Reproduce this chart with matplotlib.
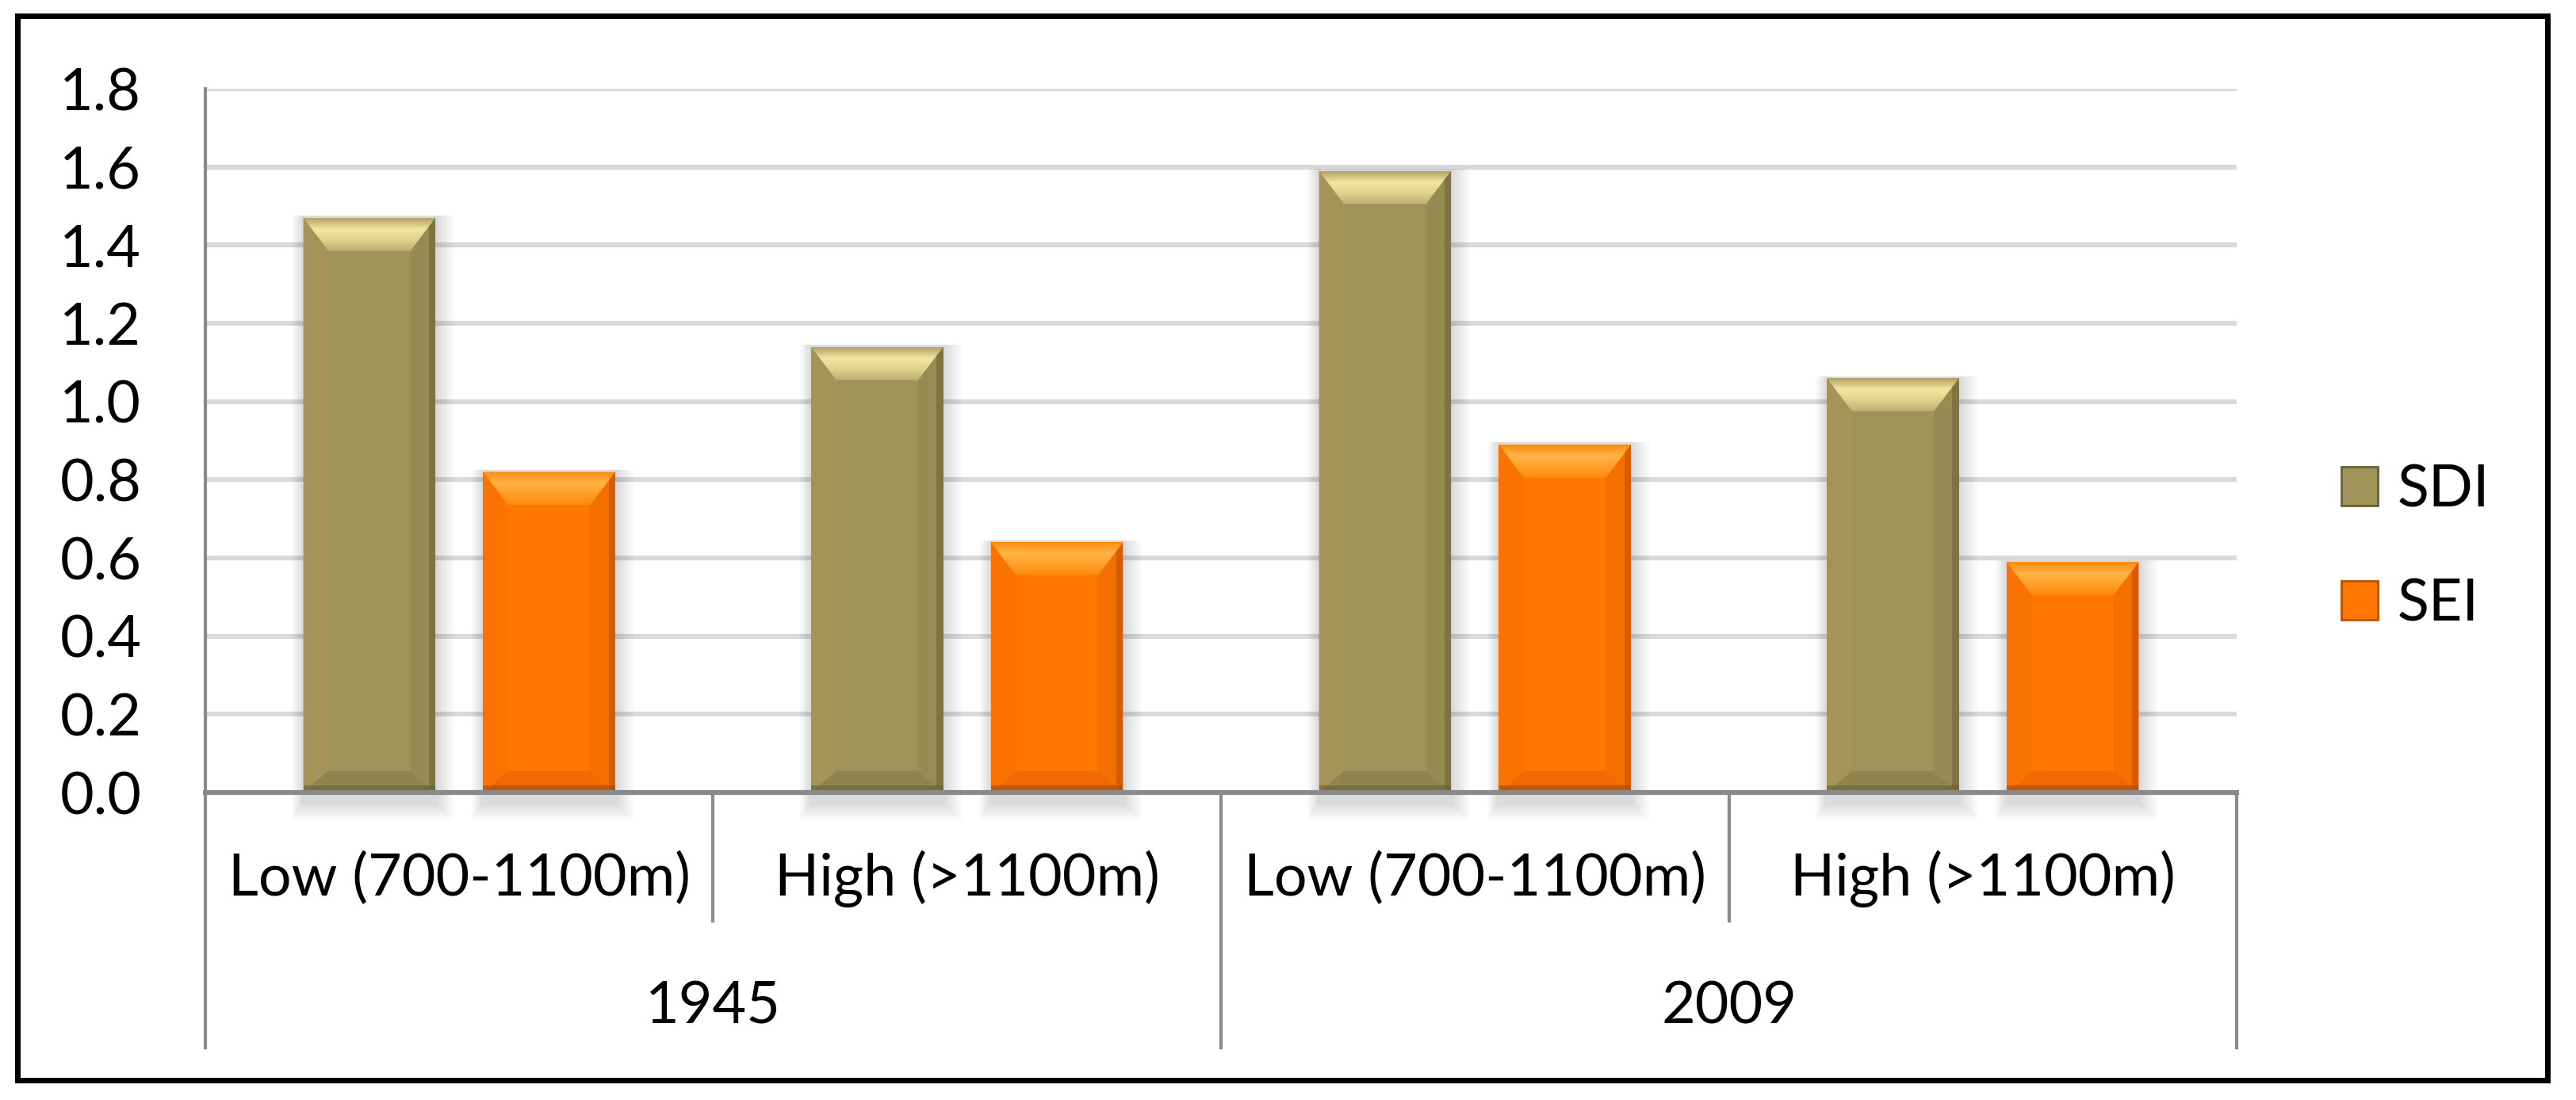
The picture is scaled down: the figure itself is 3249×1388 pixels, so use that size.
import numpy as np
import matplotlib
matplotlib.use("Agg")
import matplotlib.pyplot as plt
from matplotlib.patches import Polygon, Rectangle, Patch
from matplotlib.colors import LinearSegmentedColormap

# chart values
sub_labels = ["Low (700-1100m)", "High (>1100m)", "Low (700-1100m)", "High (>1100m)"]
years = ["1945", "2009"]
series_names = ["SDI", "SEI"]
sdi_values = [1.47, 1.14, 1.59, 1.06]
sei_values = [0.82, 0.64, 0.89, 0.59]
y_ticks = [0.0, 0.2, 0.4, 0.6, 0.8, 1.0, 1.2, 1.4, 1.6, 1.8]

# bevel look for each series
palettes = {
    "SDI": {
        "face": "#9F9359", "left": "#A59358", "right": "#968C53", "edge": "#6A6234",
        "top": ["#B3A363", "#F2E6A0", "#E0D28C", "#BDAF6E"],
        "bottom": "#8F844E", "bottom_edge": "#675E35",
    },
    "SEI": {
        "face": "#FF7700", "left": "#FA7200", "right": "#F56E00", "edge": "#B85000",
        "top": ["#FF8A10", "#FFB445", "#FFA02A", "#FF8A0C"],
        "bottom": "#F06A00", "bottom_edge": "#A84A00",
    },
}

plt.rcParams["font.family"] = ["Lato", "DejaVu Sans"]
FS = 26.5


def draw_bevel(ax, rect, pal):
    x0 = rect.get_x()
    w = rect.get_width()
    x1 = x0 + w
    top = rect.get_height()
    sw = w * 0.19
    th = 0.085
    bh = 0.055
    sx = w * 0.05

    # soft shadow
    for k in range(6):
        d = 0.006 * (k + 1)
        ax.add_patch(Rectangle((x0 - d * 0.6, -0.025 - d * 1.2), w + d * 1.6, top + 0.03 + d * 1.2,
                               facecolor="#000000", alpha=0.025, lw=0, zorder=2, clip_on=False))

    # sides
    ax.add_patch(Polygon([(x0, 0), (x0 + sw, bh), (x0 + sw, top - th), (x0, top)],
                         facecolor=pal["left"], lw=0, zorder=3.1))
    ax.add_patch(Polygon([(x1, 0), (x1 - sw, bh), (x1 - sw, top - th), (x1, top)],
                         facecolor=pal["right"], lw=0, zorder=3.1))
    ax.add_patch(Rectangle((x1 - sx, 0), sx, top, facecolor=pal["edge"], alpha=0.55, lw=0, zorder=3.2))
    # bottom
    ax.add_patch(Polygon([(x0, 0), (x1, 0), (x1 - sw, bh), (x0 + sw, bh)],
                         facecolor=pal["bottom"], lw=0, zorder=3.3))
    ax.add_patch(Rectangle((x0, 0), w, 0.018, facecolor=pal["bottom_edge"], alpha=0.6, lw=0, zorder=3.4))
    # top with gradient
    top_poly = Polygon([(x0, top), (x1, top), (x1 - sw, top - th), (x0 + sw, top - th)],
                       facecolor="none", lw=0, zorder=3.5)
    ax.add_patch(top_poly)
    cmap = LinearSegmentedColormap.from_list("t", pal["top"])
    grad = np.linspace(0, 1, 64).reshape(-1, 1)
    im = ax.imshow(grad, cmap=cmap, extent=[x0, x1, top - th, top], origin="upper",
                   aspect="auto", zorder=3.5, interpolation="bicubic")
    im.set_clip_path(top_poly)


fig = plt.figure(figsize=(16.245, 6.94), dpi=200)
ax = fig.add_axes([0.0797, 0.2795, 0.7886, 0.6398])

x = np.arange(len(sub_labels))
bar_w = 0.26
off = 0.177
bars_sdi = ax.bar(x - off, sdi_values, bar_w, color=palettes["SDI"]["face"], zorder=3, label="SDI")
bars_sei = ax.bar(x + off, sei_values, bar_w, color=palettes["SEI"]["face"], zorder=3, label="SEI")
for r in bars_sdi:
    draw_bevel(ax, r, palettes["SDI"])
for r in bars_sei:
    draw_bevel(ax, r, palettes["SEI"])

ax.set_xlim(-0.5, len(sub_labels) - 0.5)
ax.set_ylim(0, 1.8)
ax.set_yticks(y_ticks)
ax.set_yticklabels([f"{v:.1f}" for v in y_ticks], fontsize=FS)
ax.tick_params(axis="y", length=0, pad=29)
ax.set_xticks([])
ax.yaxis.grid(True, color="#D9D9D9", lw=2.2, zorder=0)
ax.set_axisbelow(True)

for s in ["top", "right", "left"]:
    ax.spines[s].set_visible(False)
ax.spines["bottom"].set_color("#8A8A8A")
ax.spines["bottom"].set_linewidth(2.2)
ax.spines["bottom"].set_zorder(4)

# category axis separators
trans = ax.get_xaxis_transform()
line_kw = dict(color="#8A8A8A", lw=1.5, clip_on=False, transform=trans, zorder=4)
ax.plot([-0.5, -0.5], [1.0, -0.3626], **line_kw)
for b in [0.5, 2.5]:
    ax.plot([b, b], [0, -0.182], **line_kw)
for b in [1.5, 3.5]:
    ax.plot([b, b], [0, -0.3626], **line_kw)

for i, lab in enumerate(sub_labels):
    ax.text(i, -0.123, lab, transform=trans, ha="center", va="center", fontsize=FS)
for j, yr in enumerate(years):
    ax.text(2 * j + 0.5, -0.305, yr, transform=trans, ha="center", va="center", fontsize=FS)

handles = [Patch(facecolor=palettes[n]["face"], edgecolor=palettes[n]["edge"], lw=1) for n in series_names]
fig.legend(handles, series_names, loc="center left", bbox_to_anchor=(0.9089, 0.5022),
           frameon=False, fontsize=FS, borderpad=0, borderaxespad=0,
           handlelength=0.625, handleheight=0.64, handletextpad=0.33, labelspacing=1.05)

# outer frame
fig.patches.append(Rectangle((0.00677, 0.0180), 0.98215, 0.96759, transform=fig.transFigure,
                             fill=False, edgecolor="black", lw=2.5, zorder=10))

fig.savefig("out.png", dpi=200)
